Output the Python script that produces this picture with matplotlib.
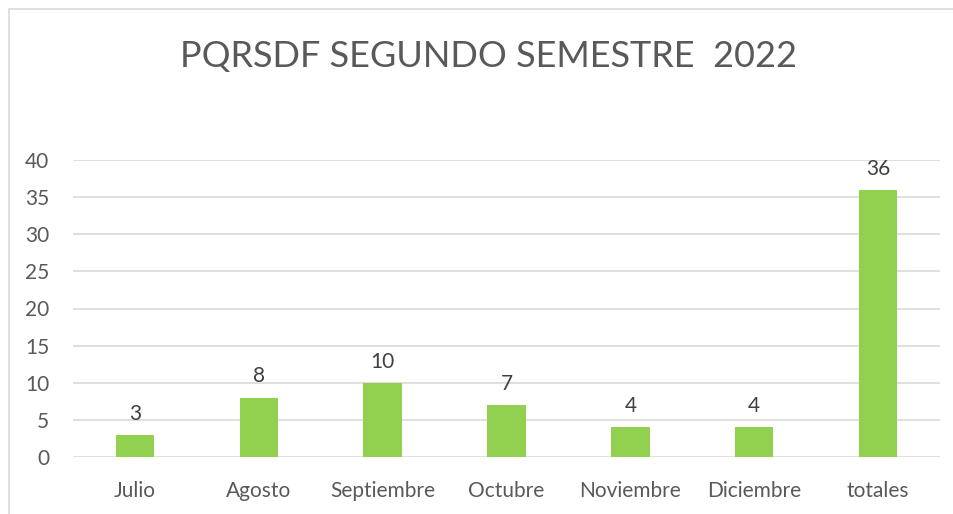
import matplotlib.pyplot as plt
from matplotlib.patches import Rectangle

meses = ['Julio', 'Agosto', 'Septiembre', 'Octubre', 'Noviembre', 'Diciembre', 'totales']
cantidades = [3, 8, 10, 7, 4, 4, 36]
y_ticks = [0, 5, 10, 15, 20, 25, 30, 35, 40]

plt.rcParams['font.family'] = ['Lato', 'DejaVu Sans']
gris = '#595959'

fig = plt.figure(figsize=(9.54, 5.14), dpi=100)
W, H = 954, 514

# marco del grafico (cortado a la derecha y abajo)
fig.patches.append(Rectangle((9 / W, -0.1), 1.2, 1 - 9 / H + 0.1, transform=fig.transFigure,
                             fill=False, edgecolor='#d9d9d9', linewidth=1.2))

ax = fig.add_axes([73 / W, 1 - 457 / H, (940 - 73) / W, (457 - 160) / H])
x = range(len(meses))
barras = ax.bar(x, cantidades, width=0.31, color='#92d050', zorder=3)
for b, v in zip(barras, cantidades):
    ax.text(b.get_x() + b.get_width() / 2, v + 1.5, str(v), ha='center', va='bottom',
            fontsize=15, color='#404040')

ax.set_xlim(-0.5, len(meses) - 0.5)
ax.set_ylim(0, 40)
ax.set_yticks(y_ticks)
ax.set_xticks(list(x))
ax.set_xticklabels(meses)
ax.tick_params(axis='both', length=0, labelsize=15, labelcolor=gris)
ax.tick_params(axis='y', pad=17)
ax.tick_params(axis='x', pad=17)
ax.grid(axis='y', color='#d9d9d9', linewidth=1.2, zorder=0)
for s in ax.spines.values():
    s.set_visible(False)

fig.text(489 / W, 1 - 57 / H, 'PQRSDF SEGUNDO SEMESTRE  2022', ha='center', va='center',
         fontsize=26, color=gris)

fig.savefig('out.png', dpi=100)
